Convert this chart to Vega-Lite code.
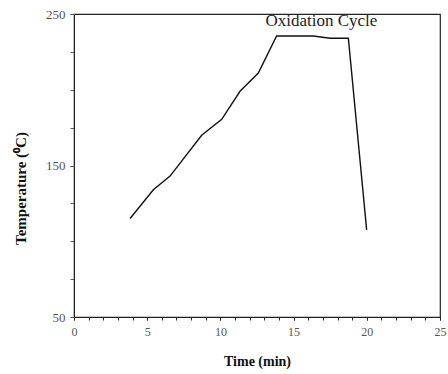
{
  "$schema": "https://vega.github.io/schema/vega-lite/v6.json",
  "width": 366,
  "height": 303,
  "autosize": {"type": "none"},
  "padding": {"left": 74, "top": 14, "right": 8, "bottom": 57},
  "background": "white",
  "config": {
    "view": {"stroke": "#222", "strokeWidth": 1.2},
    "font": "Liberation Serif"
  },
  "datasets": {
    "temp": [
      {"time": 3.83, "temperature": 115},
      {"time": 5.42, "temperature": 134},
      {"time": 6.56, "temperature": 143},
      {"time": 8.72, "temperature": 170},
      {"time": 10.09, "temperature": 180.5},
      {"time": 11.34, "temperature": 199},
      {"time": 12.59, "temperature": 211},
      {"time": 13.84, "temperature": 235.5},
      {"time": 16.35, "temperature": 235.5},
      {"time": 17.49, "temperature": 234},
      {"time": 18.74, "temperature": 234},
      {"time": 19.99, "temperature": 107.5}
    ],
    "label": [{"time": 16.9, "temperature": 245.5, "text": "Oxidation Cycle"}]
  },
  "resolve": {"axis": {"x": "independent", "y": "independent"}},
  "layer": [
    {
      "data": {"name": "temp"},
      "mark": {"type": "line", "color": "#111", "strokeWidth": 1.4},
      "encoding": {
        "x": {
          "field": "time", "type": "quantitative",
          "scale": {"domain": [0, 25], "nice": false},
          "axis": {
            "orient": "bottom",
            "title": null,
            "values": [0,1,2,3,4,5,6,7,8,9,10,11,12,13,14,15,16,17,18,19,20,21,22,23,24,25],
            "labels": false,
            "grid": false,
            "domainColor": "#222",
            "tickColor": "#222",
            "tickSize": 3
          }
        },
        "y": {
          "field": "temperature", "type": "quantitative",
          "scale": {"domain": [50, 250], "nice": false, "zero": false},
          "axis": {
            "orient": "left",
            "title": null,
            "values": [50, 75, 100, 125, 150, 175, 200, 225, 250],
            "labels": false,
            "grid": false,
            "domainColor": "#222",
            "tickColor": "#555",
            "tickSize": 4
          }
        }
      }
    },
    {
      "data": {"name": "label"},
      "mark": {"type": "text", "font": "Liberation Serif", "fontSize": 17, "color": "#222"},
      "encoding": {
        "x": {
          "field": "time", "type": "quantitative",
          "axis": {
            "orient": "bottom",
            "title": "Time (min)",
            "values": [0, 5, 10, 15, 20, 25],
            "labelOverlap": false,
            "labelBound": false,
            "labelFlush": false,
            "grid": false,
            "domain": false,
            "tickColor": "#222",
            "tickSize": 3,
            "labelFont": "Liberation Serif",
            "labelFontSize": 12,
            "labelColor": "#555",
            "labelPadding": 6,
            "titleFont": "Liberation Serif",
            "titleFontSize": 14,
            "titleFontWeight": "bold",
            "titleColor": "#111",
            "titlePadding": 17
          }
        },
        "y": {
          "field": "temperature", "type": "quantitative",
          "axis": {
            "orient": "left",
            "title": "Temperature (⁰C)",
            "values": [50, 150, 250],
            "labelOverlap": false,
            "labelFlush": false,
            "grid": false,
            "domain": false,
            "tickColor": "#555",
            "tickSize": 4,
            "labelFont": "Liberation Serif",
            "labelFontSize": 13,
            "labelColor": "#555",
            "labelPadding": 5,
            "titleFont": "Liberation Serif",
            "titleFontSize": 15,
            "titleFontWeight": "bold",
            "titleColor": "#111",
            "titlePadding": 17,
            "titleY": 174
          }
        },
        "text": {"field": "text"}
      }
    }
  ]
}
